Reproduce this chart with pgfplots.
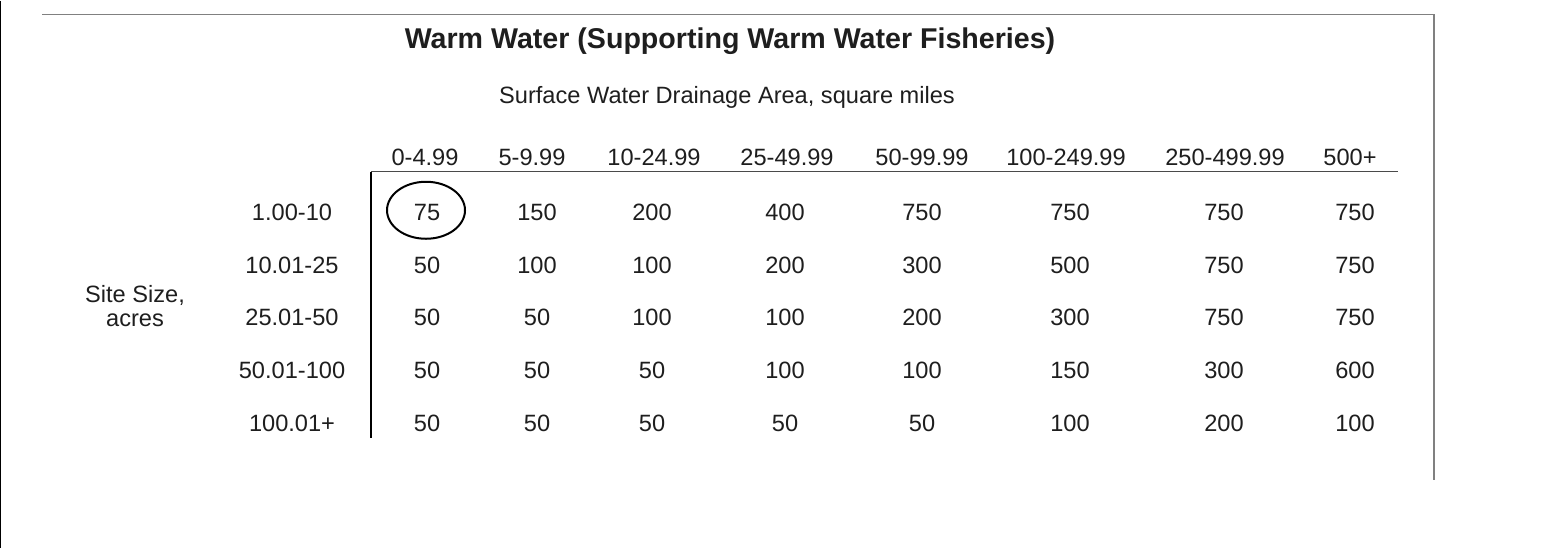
\documentclass[border=0pt]{standalone}
\usepackage{pgfplots}
\usepackage{pgfplotstable}
\pgfplotsset{compat=1.18}
\usepackage{fontspec}
\setmainfont{Liberation Sans}
\definecolor{txt}{HTML}{1E1E1E}
\definecolor{frame}{HTML}{808080}
\definecolor{rule}{HTML}{4A4A4A}

% cell values: x (px), baseline y (px), value
\pgfplotstableread{
x y label
427 220 75
537 220 150
652 220 200
785 220 400
922 220 750
1070 220 750
1224 220 750
1355 220 750
427 273 50
537 273 100
652 273 100
785 273 200
922 273 300
1070 273 500
1224 273 750
1355 273 750
427 325 50
537 325 50
652 325 100
785 325 100
922 325 200
1070 325 300
1224 325 750
1355 325 750
427 378 50
537 378 50
652 378 50
785 378 100
922 378 100
1070 378 150
1224 378 300
1355 378 600
427 431 50
537 431 50
652 431 50
785 431 50
922 431 50
1070 431 100
1224 431 200
1355 431 100
}\cells

% column headers (drainage area, square miles)
\pgfplotstableread{
x y label
425 165 0-4.99
532 165 5-9.99
654 165 10-24.99
787 165 25-49.99
922 165 50-99.99
1066 165 100-249.99
1225 165 250-499.99
1350 165 500+
}\colhead

% row headers (site size, acres)
\pgfplotstableread{
x y label
292 220 1.00-10
292 273 10.01-25
292 325 25.01-50
292 378 50.01-100
292 431 100.01+
}\rowhead

\begin{document}
\begin{tikzpicture}
\begin{axis}[
  width=775pt, height=273.5pt, scale only axis,
  xmin=0, xmax=1550, ymin=0, ymax=547, y dir=reverse,
  axis lines=none, clip=false,
  every node near coord/.append style={anchor=base, inner sep=0pt, text=txt,
     font=\fontsize{11.8}{14}\selectfont},
]
\addplot[draw=none] coordinates {(0,0) (1550,547)};
% frame lines
\addplot[black, line width=0.75pt] coordinates {(0.75,0) (0.75,547)};
\addplot[frame, line width=0.6pt] coordinates {(42,14) (1434,14) (1434,479)};
\addplot[rule, line width=0.6pt] coordinates {(371,171) (1398,171)};
\addplot[black, line width=0.8pt] coordinates {(371,171) (371,437)};
% table text
\addplot[only marks, mark=none, nodes near coords, point meta=explicit symbolic]
  table[x=x, y=y, meta=label] {\cells};
\addplot[only marks, mark=none, nodes near coords, point meta=explicit symbolic]
  table[x=x, y=y, meta=label] {\colhead};
\addplot[only marks, mark=none, nodes near coords, point meta=explicit symbolic]
  table[x=x, y=y, meta=label] {\rowhead};
% titles
\node[anchor=base, inner sep=0pt, text=txt, font=\bfseries\fontsize{14.3}{17}\selectfont]
  at (axis cs:730,48) {Warm Water (Supporting Warm Water Fisheries)};
\node[anchor=base, inner sep=0pt, text=txt, font=\fontsize{11.8}{14}\selectfont]
  at (axis cs:727,103) {Surface Water Drainage Area, square miles};
\node[anchor=base, inner sep=0pt, text=txt, font=\fontsize{11.8}{14}\selectfont]
  at (axis cs:135,302) {Site Size,};
\node[anchor=base, inner sep=0pt, text=txt, font=\fontsize{11.8}{14}\selectfont]
  at (axis cs:135,326) {acres};
% highlighted cell
\draw[black, line width=1pt] (axis cs:426,209.5) ellipse [x radius=39, y radius=28.5];
\end{axis}
\end{tikzpicture}
\end{document}
